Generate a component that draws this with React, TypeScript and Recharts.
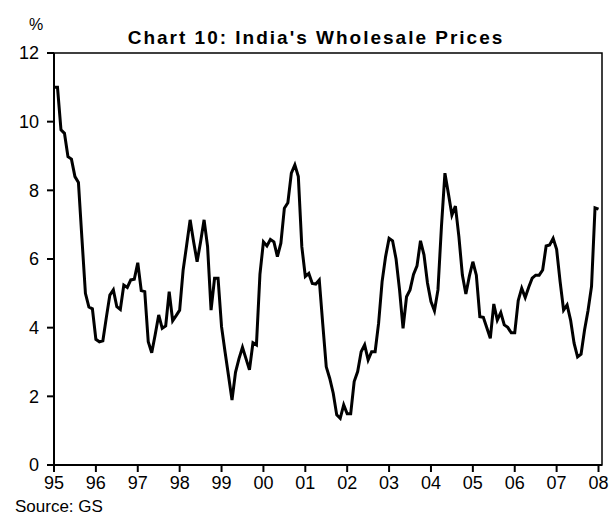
import { LineChart, Line, XAxis, YAxis, ReferenceArea } from 'recharts';

// monthly WPI inflation, % yoy, Jan 1995 - Jan 2008
const wpi = [
  11.0, 11.0, 9.76, 9.66, 8.98, 8.91, 8.4, 8.23, 6.6, 5.0, 4.6, 4.55,
  3.66, 3.59, 3.62, 4.3, 4.95, 5.1, 4.61, 4.53, 5.24, 5.17, 5.39, 5.41,
  5.89, 5.08, 5.05, 3.59, 3.27, 3.8, 4.37, 3.98, 4.05, 5.05, 4.2, 4.35,
  4.51, 5.68, 6.4, 7.14, 6.5, 5.92, 6.5, 7.14, 6.36, 4.51, 5.44, 5.44,
  4.03, 3.3, 2.6, 1.89, 2.7, 3.1, 3.43, 3.1, 2.77, 3.56, 3.5, 5.55,
  6.5, 6.38, 6.57, 6.5, 6.07, 6.46, 7.48, 7.64, 8.5, 8.74, 8.4, 6.36,
  5.49, 5.58, 5.29, 5.27, 5.39, 4.1, 2.86, 2.52, 2.09, 1.46, 1.36, 1.75,
  1.49, 1.49, 2.43, 2.72, 3.3, 3.5, 3.06, 3.3, 3.3, 4.13, 5.34, 6.07,
  6.6, 6.53, 6.0, 5.1, 3.98, 4.9, 5.1, 5.55, 5.8, 6.53, 6.12, 5.3,
  4.76, 4.49, 5.1, 6.94, 8.5, 7.9, 7.28, 7.54, 6.65, 5.53, 4.98, 5.5,
  5.92, 5.53, 4.32, 4.3, 4.0, 3.69, 4.69, 4.22, 4.44, 4.08, 4.01, 3.85,
  3.85, 4.79, 5.15, 4.88, 5.18, 5.44, 5.53, 5.53, 5.68, 6.38, 6.41, 6.6,
  6.28, 5.34, 4.51, 4.66, 4.22, 3.55, 3.15, 3.23, 3.93, 4.5, 5.2, 7.49,
  7.45,
];

const yearLabels = ['95', '96', '97', '98', '99', '00', '01', '02', '03', '04', '05', '06', '07', '08'];
const yearTicks = [0, 12, 24, 36, 48, 60, 72, 84, 96, 108, 120, 132, 144, 156];
const yTicks = [0, 2, 4, 6, 8, 10, 12];

const data = wpi.map((v, i) => ({ m: i, v }));

const font = '"Liberation Sans", Arial, sans-serif';

export default function App() {
  return (
    <div style={{ position: 'absolute', left: 0, top: 0, width: 612, height: 519, background: '#fff', fontFamily: font }}>
      <LineChart width={612} height={519} data={data} margin={{ top: 53, right: 10, bottom: 24, left: 14 }}>
        <ReferenceArea x1={0} x2={157} y1={0} y2={12} fill="none" stroke="#000" strokeWidth={1.5} />
        <XAxis
          dataKey="m"
          type="number"
          domain={[0, 157]}
          ticks={yearTicks}
          tickFormatter={(t) => yearLabels[yearTicks.indexOf(t)]}
          interval={0}
          height={30}
          tickSize={7}
          tickMargin={4}
          stroke="#000"
          strokeWidth={2}
          tick={{ fill: '#000', fontSize: 18, fontFamily: font }}
        />
        <YAxis
          domain={[0, 12]}
          ticks={yTicks}
          interval={0}
          width={40}
          tickSize={7}
          tickMargin={8}
          stroke="#000"
          strokeWidth={2}
          tick={{ fill: '#000', fontSize: 18, fontFamily: font }}
        />
        <Line type="linear" dataKey="v" stroke="#000" strokeWidth={3} dot={false} isAnimationActive={false} />
      </LineChart>
      <svg width={612} height={519} style={{ position: 'absolute', left: 0, top: 0, pointerEvents: 'none' }}>
        <text x={316} y={44} textAnchor="middle" fontSize={19} fontWeight="bold" letterSpacing={2} fontFamily={font} fill="#000">
          Chart 10: India's Wholesale Prices
        </text>
        <text x={36} y={30} textAnchor="middle" fontSize={16} fontFamily={font} fill="#000">%</text>
        <text x={15} y={512} fontSize={17} fontFamily={font} fill="#000">Source: GS</text>
      </svg>
    </div>
  );
}
